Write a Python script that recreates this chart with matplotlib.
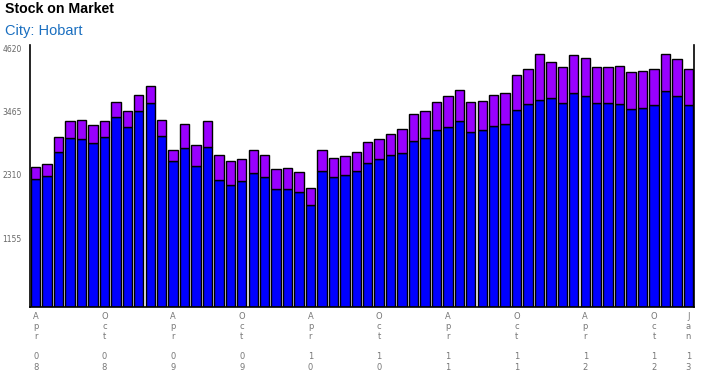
import numpy as np
import matplotlib
matplotlib.use('Agg')
import matplotlib.pyplot as plt

# monthly stock on market, Apr 2008 .. Jan 2013
blue_vals = [2342, 2385, 2829, 3084, 3072, 2993, 3102, 3467, 3279, 3571,
             3729, 3121, 2664, 2902, 2573, 2920, 2318, 2226, 2299, 2445,
             2378, 2153, 2153, 2099, 1861, 2488, 2372, 2409, 2488, 2628,
             2701, 2774, 2810, 3029, 3084, 3230, 3285, 3394, 3194, 3236,
             3303, 3340, 3595, 3705, 3778, 3814, 3723, 3905, 3851, 3723,
             3723, 3705, 3613, 3632, 3686, 3942, 3851, 3686]
total_vals = [2561, 2610, 3102, 3400, 3419, 3321, 3400, 3747, 3571, 3869,
              4033, 3419, 2871, 3340, 2956, 3400, 2774, 2664, 2701, 2871,
              2780, 2518, 2537, 2464, 2172, 2865, 2719, 2756, 2829, 3011,
              3066, 3157, 3248, 3522, 3577, 3741, 3851, 3966, 3741, 3759,
              3869, 3905, 4234, 4349, 4620, 4471, 4380, 4599, 4544, 4380,
              4380, 4398, 4289, 4307, 4349, 4620, 4526, 4343]
purple_vals = [t - b for t, b in zip(total_vals, blue_vals)]

tick_idx = [0, 6, 12, 18, 24, 30, 36, 42, 48, 54, 57]
tick_labels = ['Apr 08', 'Oct 08', 'Apr 09', 'Oct 09', 'Apr 10', 'Oct 10',
               'Apr 11', 'Oct 11', 'Apr 12', 'Oct 12', 'Jan 13']
y_ticks = [1155, 2310, 3465, 4620]

fig = plt.figure(figsize=(7.02, 3.77), dpi=100)
ax = fig.add_axes([30 / 702, 70 / 377, 664 / 702, 262 / 377])

x = np.arange(len(blue_vals))
ax.bar(x, blue_vals, width=0.82, color='#0000ff', edgecolor='black', linewidth=1)
ax.bar(x, purple_vals, bottom=blue_vals, width=0.82, color='#9900ff',
       edgecolor='black', linewidth=1)

ax.set_xlim(-0.5, len(blue_vals) - 0.5)
ax.set_ylim(0, 4780)

ax.spines['top'].set_visible(False)
for s in ['left', 'right', 'bottom']:
    ax.spines[s].set_linewidth(1.2)

ax.set_yticks(y_ticks)
ax.set_yticklabels([str(v) for v in y_ticks], fontsize=5.5, color='#666666',
                   va='bottom')
ax.tick_params(axis='y', length=0, pad=6)

# stacked-character month labels
ax.set_xticks([])
for i, lab in zip(tick_idx, tick_labels):
    m, yr = lab.split()
    txt = '\n'.join(m) + '\n\n' + '\n'.join(yr)
    ax.text(i, -0.018, txt, transform=ax.get_xaxis_transform(), ha='center',
            va='top', fontsize=6, color='#777777', linespacing=1.17)

fig.text(5 / 702, 1 - 9 / 377, 'Stock on Market', fontsize=10.2, fontweight='bold',
         family='Liberation Sans', va='center', ha='left')
fig.text(5 / 702, 1 - 31 / 377, 'City: Hobart', fontsize=10.5,
         family='Liberation Sans', color='#1a6fc0', va='center', ha='left')

fig.savefig('out.png', dpi=100)
